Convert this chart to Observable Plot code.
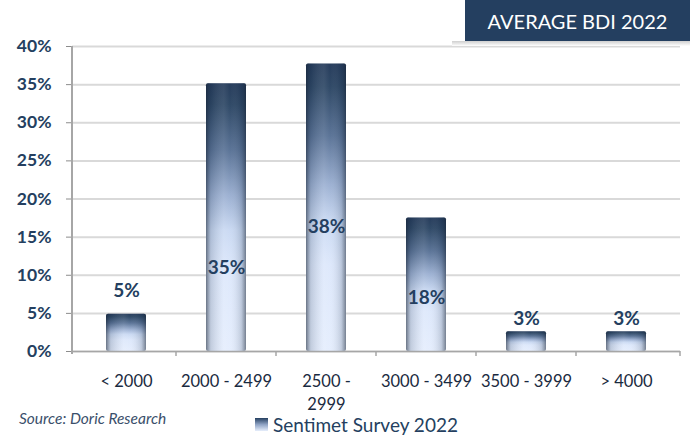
<!DOCTYPE html>
<html><head><meta charset="utf-8">
<script src="https://cdn.jsdelivr.net/npm/d3@7"></script>
<script src="https://cdn.jsdelivr.net/npm/@observablehq/plot@0.6"></script>
<style>
body{margin:0;background:#fff;font-family:Lato,"Open Sans",sans-serif;}
#wrap{position:relative;width:690px;height:439px;overflow:hidden;background:#fff}
#title{position:absolute;left:465px;top:0;width:225px;height:41px;background:#243f60;color:#fff;font-size:20px;line-height:42px;text-align:center;z-index:2}
#shadow{position:absolute;left:452px;top:41px;width:238px;height:5px;background:linear-gradient(#cfcfcf,#fff);z-index:2}
#source{position:absolute;left:19px;top:409px;font-size:15.5px;font-style:italic;color:#3b4f6b;z-index:2}
#legend{position:absolute;left:255px;top:413px;font-size:19px;color:#243f60;z-index:2;display:flex;align-items:center}
#legend .sw{width:13px;height:13px;margin-right:5px;background:linear-gradient(#243f60,#8fa3c4 50%,#e6eefc)}
#chart{position:absolute;left:0;top:0}
</style>
</head><body>
<div id="wrap">
  <div id="chart"></div>
  <div id="title">AVERAGE BDI 2022</div>
  <div id="shadow"></div>
  <div id="source">Source: Doric Research</div>
  <div id="legend"><span class="sw"></span>Sentimet Survey 2022</div>
</div>
<script>
const categories = ["< 2000", "2000 - 2499", "2500 - 2999", "3000 - 3499", "3500 - 3999", "> 4000"];
const values = [4.9, 35.1, 37.7, 17.5, 2.6, 2.6];
const labels = ["5%", "35%", "38%", "18%", "3%", "3%"];
const labelAt = [8.0, 10.9, 16.3, 7.0, 4.3, 4.3];
const yTicks = [0, 5, 10, 15, 20, 25, 30, 35, 40];
const seriesName = "Sentimet Survey 2022";

const data = categories.map((c, i) => ({cat: c, value: values[i], label: labels[i], ly: labelAt[i]}));
const navy = "#243f60";

const plot = Plot.plot({
  width: 690,
  height: 439,
  marginLeft: 72,
  marginRight: 10,
  marginTop: 46,
  marginBottom: 88,
  style: {fontFamily: "Lato, 'Open Sans', sans-serif", background: "transparent", overflow: "visible"},
  x: {domain: categories, paddingInner: 0.6, paddingOuter: 0.34, label: null},
  y: {domain: [0, 40], label: null},
  marks: [
    Plot.gridY(yTicks, {stroke: "#d9d9d9", strokeOpacity: 1, strokeWidth: 2}),
    Plot.axisY(yTicks, {tickFormat: d => d + "%", tickSize: 6, tickPadding: 15, fontSize: 17.5, fontWeight: "bold", fill: navy, stroke: "#8c8c8c", label: null}),
    Plot.axisX({tickSize: 0, tickPadding: 19, fontSize: 16.5, lineHeight: 1.4, fill: "#1a2a40", label: null,
      tickFormat: d => d === "2500 - 2999" ? "2500 -\n2999" : d}),
    Plot.barY(data, {x: "cat", y: "value", fill: "url(#vgrad)", rx: 2}),
    Plot.barY(data, {x: "cat", y: "value", fill: "url(#hgrad)", rx: 2}),
    Plot.ruleY([0], {stroke: "#a6a6a6", strokeWidth: 1.5}),
    Plot.text(data, {x: "cat", y: "ly", text: "label", fontSize: 19, fontWeight: "bold", fill: navy})
  ]
});

const svg = d3.select(plot);
const defs = svg.insert("defs", ":first-child");
const vg = defs.append("linearGradient").attr("id", "vgrad").attr("x1", 0).attr("y1", 0).attr("x2", 0).attr("y2", 1);
[[0, "#1c3354"], [0.08, "#25405f"], [0.25, "#536d92"], [0.42, "#98add0"], [0.55, "#c8d8f2"], [0.7, "#dce7fb"], [1, "#e4edfd"]]
  .forEach(([o, c]) => vg.append("stop").attr("offset", o).attr("stop-color", c));
const hg = defs.append("linearGradient").attr("id", "hgrad").attr("x1", 0).attr("y1", 0).attr("x2", 1).attr("y2", 0);
[[0, "#1a2535", 0.6], [0.12, "#3a4a60", 0.2], [0.45, "#ffffff", 0.12], [0.6, "#ffffff", 0.05], [0.88, "#3a4a60", 0.2], [1, "#1a2535", 0.55]]
  .forEach(([o, c, a]) => hg.append("stop").attr("offset", o).attr("stop-color", c).attr("stop-opacity", a));

// axis lines and category separators from the scales
const xs = plot.scale("x"), ys = plot.scale("y");
const y0 = ys.apply(0), yTop = ys.apply(40);
const left = 72, right = 680;
svg.append("line").attr("x1", left).attr("x2", left).attr("y1", yTop).attr("y2", y0 + 3)
  .attr("stroke", "#a6a6a6").attr("stroke-width", 2);
const step = xs.step, bw = xs.bandwidth;
categories.slice(1).forEach(c => {
  const xv = xs.apply(c) - (step - bw) / 2;
  svg.append("line").attr("x1", xv).attr("x2", xv).attr("y1", y0).attr("y2", y0 + 5)
    .attr("stroke", "#a6a6a6").attr("stroke-width", 1.5);
});
svg.append("line").attr("x1", right).attr("x2", right).attr("y1", y0).attr("y2", y0 + 5)
  .attr("stroke", "#a6a6a6").attr("stroke-width", 1.5);

document.getElementById("chart").appendChild(plot);
</script>
</body></html>
